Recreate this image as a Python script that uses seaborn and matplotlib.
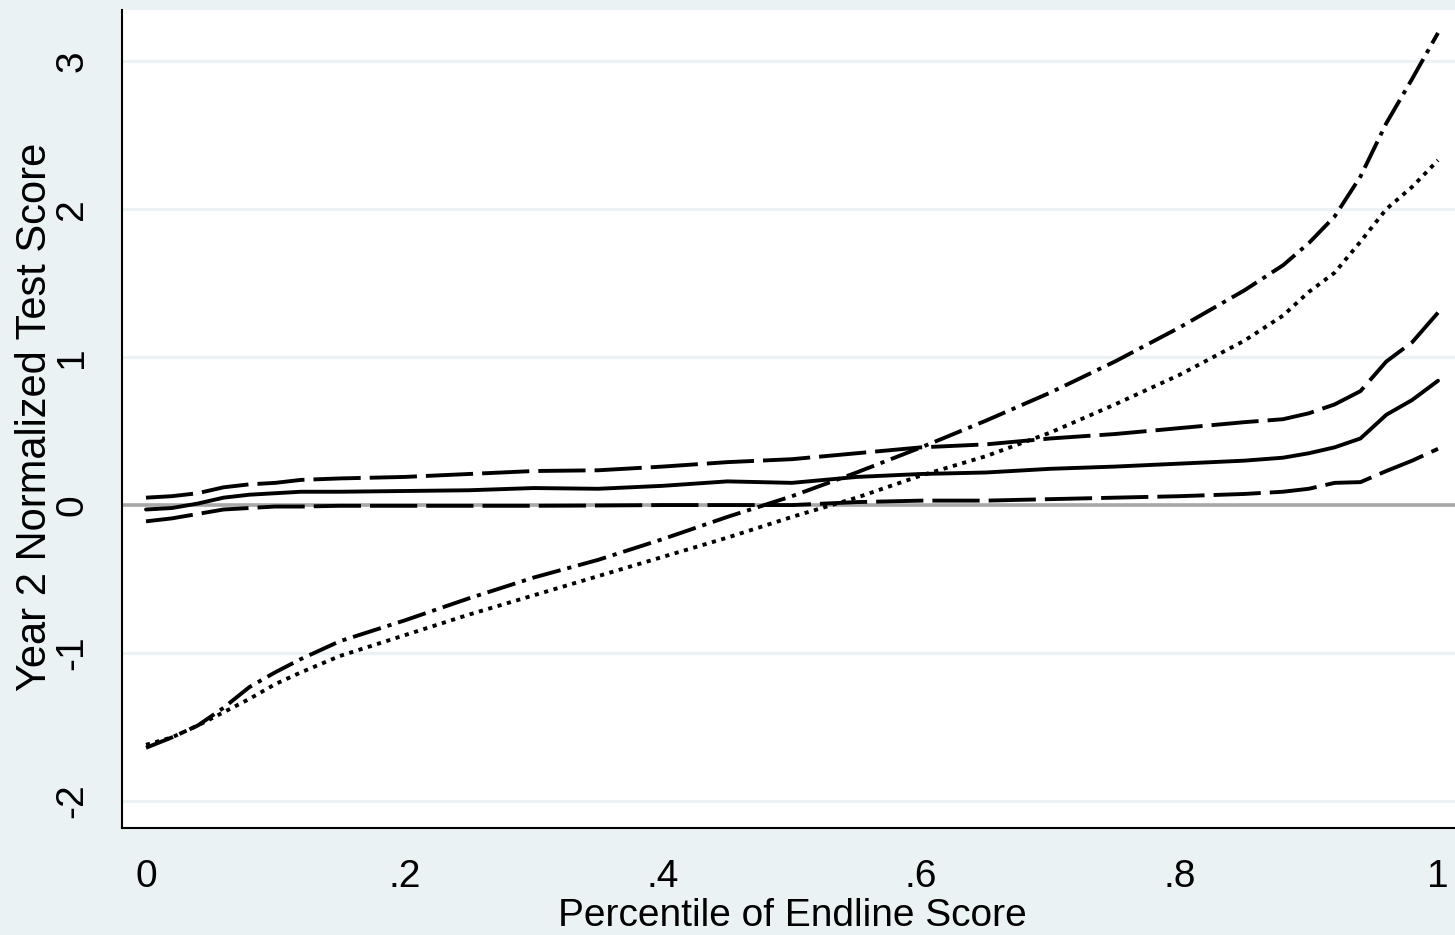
import matplotlib
matplotlib.use("Agg")
import matplotlib.pyplot as plt
import seaborn as sns
import pandas as pd

# percentile grid
pctile = [0, .02, .04, .06, .08, .10, .12, .15, .20, .25, .30, .35, .40, .45, .50,
          .55, .60, .65, .70, .75, .80, .85, .88, .90, .92, .94, .96, .98, 1.0]

# dash-dot curve
treat = [-1.64, -1.57, -1.49, -1.37, -1.23, -1.13, -1.04, -0.92, -0.78, -0.63, -0.49,
         -0.37, -0.23, -0.08, 0.06, 0.22, 0.39, 0.57, 0.76, 0.97, 1.20, 1.45, 1.62,
         1.77, 1.95, 2.22, 2.58, 2.88, 3.19]
# dotted curve
control = [-1.62, -1.57, -1.49, -1.40, -1.31, -1.21, -1.13, -1.02, -0.88, -0.74, -0.61,
           -0.48, -0.35, -0.22, -0.08, 0.05, 0.20, 0.33, 0.49, 0.68, 0.88, 1.11, 1.28,
           1.44, 1.57, 1.78, 2.00, 2.15, 2.33]
# solid curve (difference) and its dashed bands
effect = [-0.03, -0.02, 0.01, 0.05, 0.07, 0.08, 0.09, 0.09, 0.095, 0.10, 0.115, 0.11,
          0.13, 0.16, 0.15, 0.19, 0.21, 0.22, 0.245, 0.26, 0.28, 0.30, 0.32, 0.35, 0.39,
          0.45, 0.61, 0.71, 0.84]
ci_high = [0.05, 0.06, 0.08, 0.12, 0.14, 0.15, 0.17, 0.18, 0.19, 0.21, 0.23, 0.235,
           0.26, 0.29, 0.31, 0.35, 0.39, 0.41, 0.45, 0.48, 0.52, 0.56, 0.58, 0.62, 0.68,
           0.77, 0.97, 1.10, 1.30]
ci_low = [-0.11, -0.09, -0.06, -0.03, -0.02, -0.01, -0.01, -0.005, -0.005, -0.005,
          -0.005, -0.003, 0.0, 0.0, 0.0, 0.02, 0.03, 0.03, 0.04, 0.05, 0.06, 0.075, 0.09,
          0.11, 0.15, 0.155, 0.23, 0.30, 0.38]

xticks = [0, .2, .4, .6, .8, 1]
xtick_labels = ['0', '.2', '.4', '.6', '.8', '1']
yticks = [-2, -1, 0, 1, 2, 3]
ytick_labels = ['-2', '-1', '0', '1', '2', '3']

df = pd.DataFrame({'pct': pctile, 'treat': treat, 'control': control,
                   'effect': effect, 'ci_high': ci_high, 'ci_low': ci_low})

sns.set_theme(style="white")
plt.rcParams['font.family'] = ['Liberation Sans', 'DejaVu Sans']
plt.rcParams['lines.scale_dashes'] = False

bg = '#eaf2f3'
fig = plt.figure(figsize=(14.55, 9.35), dpi=100, facecolor=bg)
ax = fig.add_axes([122 / 1455, 107 / 935, 1333 / 1455, 818 / 935])
ax.set_facecolor('white')

# grid and zero line
for y in yticks:
    ax.axhline(y, color=bg, lw=2.2, zorder=0)
ax.axhline(0, color='#a8a8a8', lw=2.6, zorder=1)

lw = 2.8
styles = {
    'ci_high': (0, (34, 6.5)),
    'ci_low': (0, (34, 6.5)),
    'effect': '-',
    'treat': (0, (21, 5, 3, 5)),
    'control': (0, (3, 4)),
}
for col, ls in styles.items():
    sns.lineplot(data=df, x='pct', y=col, ax=ax, color='black', lw=lw,
                 linestyle=ls, dash_capstyle='butt', zorder=3)

ax.set_xlim(-0.01858, 1.01316)
ax.set_ylim(-2.182, 3.345)

ax.set_xticks(xticks, xtick_labels)
ax.set_yticks(yticks, ytick_labels)
ax.tick_params(axis='both', direction='out', length=12, width=1.4, color='black',
               labelsize=28, labelcolor='black')
ax.tick_params(axis='x', pad=10)
ax.tick_params(axis='y', pad=11, labelrotation=90)
for lab in ax.get_yticklabels():
    lab.set_va('center')

for side in ['top', 'right']:
    ax.spines[side].set_visible(False)
for side in ['left', 'bottom']:
    ax.spines[side].set_color('black')
    ax.spines[side].set_linewidth(1.5)

ax.set_xlabel('Percentile of Endline Score', fontsize=28, color='black')
ax.set_ylabel('Year 2 Normalized Test Score', fontsize=30, color='black')
ax.xaxis.set_label_coords(0.503, -0.085)
ax.yaxis.set_label_coords(-0.050, 0.502)

fig.savefig('out.png', dpi=100, facecolor=bg)
